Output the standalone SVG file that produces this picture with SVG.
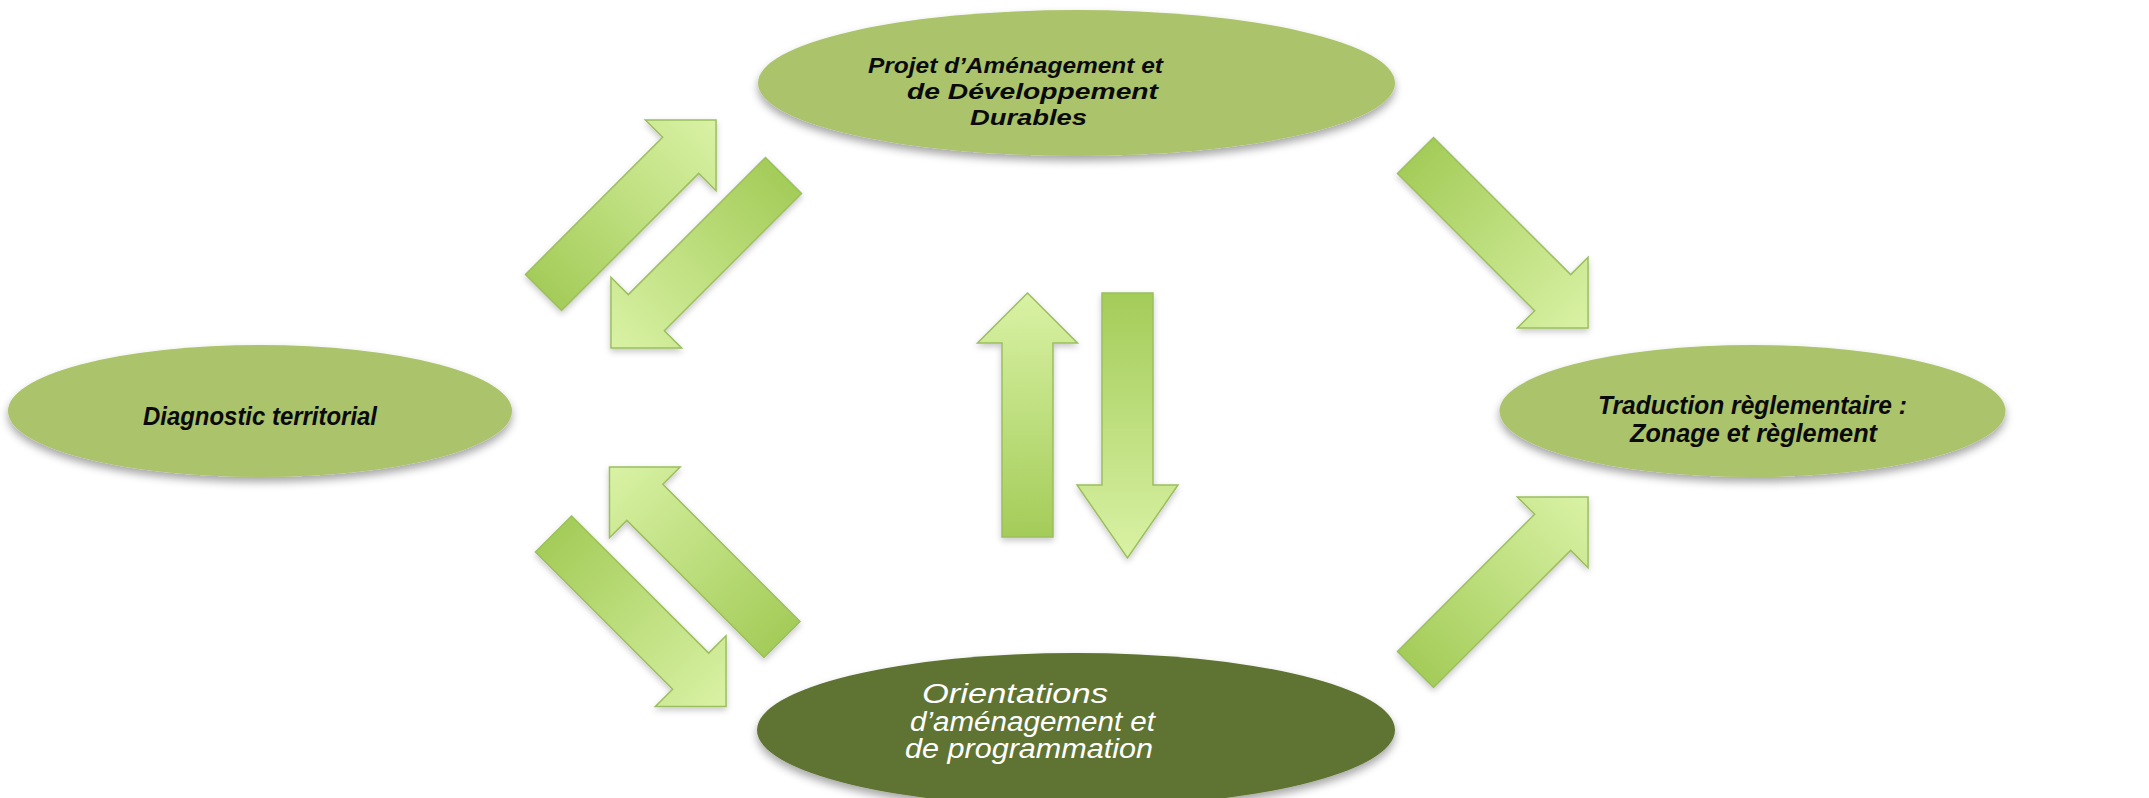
<svg xmlns="http://www.w3.org/2000/svg" width="2149" height="798" viewBox="0 0 2149 798">
<defs>
<linearGradient id="arrowGrad" x1="0" y1="0" x2="1" y2="0">
<stop offset="0" stop-color="#A4CC59"/>
<stop offset="1" stop-color="#D9F2A5"/>
</linearGradient>
<filter id="ellShadow" x="-10%" y="-20%" width="120%" height="150%">
<feDropShadow dx="0" dy="5" stdDeviation="4" flood-color="#000" flood-opacity="0.35"/>
</filter>
<filter id="arrShadow" x="-20%" y="-20%" width="140%" height="140%">
<feDropShadow dx="0" dy="3" stdDeviation="3" flood-color="#000" flood-opacity="0.22"/>
</filter>
<path id="arrowA" d="M0,-25.5 H194 V-50 L244,0 L194,50 V25.5 H0 Z"/>
<path id="arrowB" d="M0,-25.5 H192 V-50.5 L265,0 L192,50.5 V25.5 H0 Z"/>
</defs>
<style>
.arr { fill: url(#arrowGrad); stroke: #9BBE5E; stroke-width: 1.5; stroke-linejoin: miter; }
.light { fill: #ABC36B; }
.dark { fill: #5E7332; }
.lbl { font-family: "Liberation Sans", Arial, sans-serif; font-style: italic; font-weight: bold; font-size: 26px; fill: #0A0A0A; text-anchor: middle; }
.top { font-size: 22.5px; }
.lblw { font-family: "Liberation Sans", Arial, sans-serif; font-style: italic; font-weight: normal; font-size: 27px; fill: #FFFFFF; text-anchor: middle; }
</style>
<rect width="2149" height="798" fill="#FFFFFF"/>

<g id="connectors">
<g filter="url(#arrShadow)"><use href="#arrowA" class="arr" transform="translate(543.5,292.5) rotate(-45)"/></g>
<g filter="url(#arrShadow)"><use href="#arrowA" class="arr" transform="translate(783.5,175.5) rotate(135)"/></g>
<g filter="url(#arrShadow)"><use href="#arrowA" class="arr" transform="translate(782,639.5) rotate(-135)"/></g>
<g filter="url(#arrShadow)"><use href="#arrowA" class="arr" transform="translate(553.5,534) rotate(45)"/></g>
<g filter="url(#arrShadow)"><use href="#arrowA" class="arr" transform="translate(1415.5,155.5) rotate(45)"/></g>
<g filter="url(#arrShadow)"><use href="#arrowA" class="arr" transform="translate(1415.5,669.5) rotate(-45)"/></g>
<g filter="url(#arrShadow)"><use href="#arrowA" class="arr" transform="translate(1027.5,537) rotate(-90)"/></g>
<g filter="url(#arrShadow)"><use href="#arrowB" class="arr" transform="translate(1127.5,293) rotate(90)"/></g>
</g>

<g id="node-padd">
<ellipse class="light" cx="1076.5" cy="83" rx="318.5" ry="73" filter="url(#ellShadow)"/>
<text class="lbl top" x="1015.5" y="73" textLength="295" lengthAdjust="spacingAndGlyphs">Projet d’Aménagement et</text>
<text class="lbl top" x="1032.5" y="99" textLength="251" lengthAdjust="spacingAndGlyphs">de Développement</text>
<text class="lbl top" x="1028.5" y="125" textLength="117" lengthAdjust="spacingAndGlyphs">Durables</text>
</g>

<g id="node-diagnostic">
<ellipse class="light" cx="260" cy="411" rx="252" ry="66" filter="url(#ellShadow)"/>
<text class="lbl" x="260" y="425" textLength="234" lengthAdjust="spacingAndGlyphs">Diagnostic territorial</text>
</g>

<g id="node-traduction">
<ellipse class="light" cx="1752.5" cy="411" rx="253" ry="66" filter="url(#ellShadow)"/>
<text class="lbl" x="1752.5" y="414" textLength="309" lengthAdjust="spacingAndGlyphs">Traduction règlementaire :</text>
<text class="lbl" x="1753.5" y="442" textLength="247" lengthAdjust="spacingAndGlyphs">Zonage et règlement</text>
</g>

<g id="node-oap">
<ellipse class="dark" cx="1076" cy="730" rx="319" ry="77" filter="url(#ellShadow)"/>
<text class="lblw" x="1015" y="703" textLength="186" lengthAdjust="spacingAndGlyphs">Orientations</text>
<text class="lblw" x="1032.5" y="731" textLength="245" lengthAdjust="spacingAndGlyphs">d’aménagement et</text>
<text class="lblw" x="1029" y="758" textLength="248" lengthAdjust="spacingAndGlyphs">de programmation</text>
</g>
</svg>
